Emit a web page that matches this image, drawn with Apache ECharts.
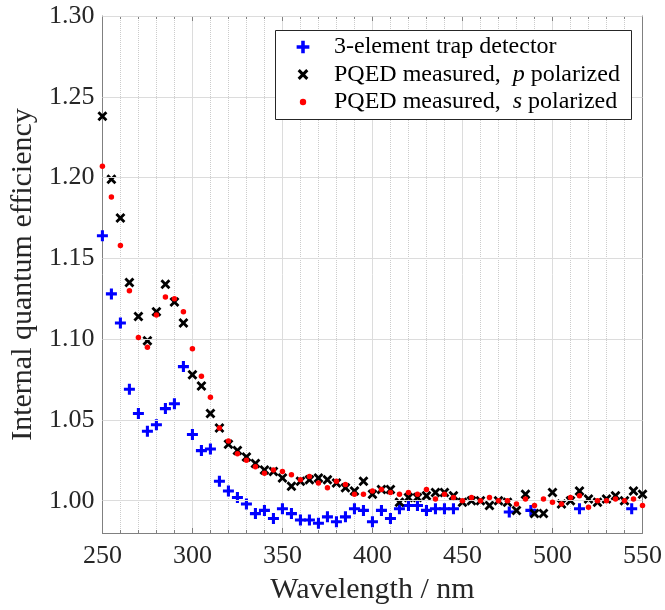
<!DOCTYPE html>
<html>
<head>
<meta charset="UTF-8">
<title>Internal quantum efficiency</title>
<script src="https://cdn.jsdelivr.net/npm/echarts@6/dist/echarts.min.js"></script>
<style>
    html, body { margin: 0; padding: 0; background: #fff; }
    #main { width: 665px; height: 610px; }
</style>
</head>
<body>
<div id="main"></div>
<script>
// wavelengths of the PQED measurements (nm)
var pqedWl = [250,255,260,265,270,275,280,285,290,295,300,305,310,315,320,325,330,335,340,345,
              350,355,360,365,370,375,380,385,390,395,400,405,410,415,420,425,430,435,440,445,
              450,455,460,465,470,475,480,485,490,495,500,505,510,515,520,525,530,535,540,545,550];

// PQED measured, p polarized
var pPol = [1.238,1.199,1.175,1.135,1.114,1.099,1.117,1.134,1.123,1.110,1.078,1.071,1.054,1.045,1.035,1.031,1.027,1.023,1.019,1.018,
            1.014,1.009,1.012,1.013,1.014,1.013,1.011,1.008,1.006,1.012,1.004,1.007,1.007,0.999,1.002,1.002,1.003,1.005,1.005,1.003,
            0.999,1.000,1.000,0.997,1.000,0.999,0.994,1.004,0.992,0.992,1.005,0.998,1.000,1.006,1.001,0.999,1.001,1.003,1.000,1.006,1.004];

// PQED measured, s polarized
var sPol = [1.207,1.188,1.158,1.130,1.101,1.095,1.115,1.126,1.125,1.117,1.094,1.077,1.064,1.045,1.037,1.029,1.025,1.021,1.017,1.019,
            1.018,1.016,1.013,1.015,1.011,1.008,1.012,1.010,1.004,1.004,1.006,1.007,1.005,1.004,1.005,1.004,1.007,1.001,1.004,1.002,
            1.000,1.002,1.000,1.002,1.000,1.000,0.998,1.001,0.997,1.001,0.999,0.998,1.002,1.003,0.996,1.000,1.000,1.001,1.000,1.001,0.997];

// 3-element trap detector
var trapWl = [250,255,260,265,270,275,280,285,290,295,300,305,310,315,320,325,330,335,340,345,
              350,355,360,365,370,375,380,385,390,395,400,405,410,415,420,425,430,435,440,445,
              476,488,515,544];
var trapVal = [1.164,1.128,1.110,1.069,1.054,1.043,1.047,1.057,1.060,1.083,1.041,1.031,1.032,1.012,1.006,1.002,0.998,0.992,0.994,0.989,
               0.995,0.992,0.988,0.988,0.986,0.990,0.987,0.990,0.995,0.994,0.987,0.994,0.989,0.995,0.997,0.997,0.994,0.995,0.995,0.995,
               0.993,0.994,0.995,0.995];

var xTicks = [250,300,350,400,450,500,550];
var yTicks = [1.00,1.05,1.10,1.15,1.20,1.25,1.30];

var names = ['3-element trap detector', 'PQED measured, p polarized', 'PQED measured, s polarized'];

function pairs(xs, ys) {
    var out = [];
    for (var i = 0; i < xs.length; i++) out.push([xs[i], ys[i]]);
    return out;
}

var FONT = '"Liberation Serif", "Times New Roman", serif';
var AXIS_GRAY = '#808080';
var TEXT = '#262626';

var plusPath = 'path://M3.6,0h2.8v10h-2.8zM0,3.6h10v2.8h-10z';
var crossPath = 'path://M0,2L2,0L5,3L8,0L10,2L7,5L10,8L8,10L5,7L2,10L0,8L3,5z';
// legend icons padded with move-to points so they keep their relative sizes
var plusIcon = 'path://M-0.5,-0.5M10.5,10.5M3.6,0h2.8v10h-2.8zM0,3.6h10v2.8h-10z';
var crossIcon = 'path://M-1.5,-1.5M11.5,11.5M0,2L2,0L5,3L8,0L10,2L7,5L10,8L8,10L5,7L2,10L0,8L3,5z';
var dotIcon = 'path://M-0.5,-0.5M10.5,10.5M5,2.5A2.5,2.5,0,1,0,5,7.5A2.5,2.5,0,1,0,5,2.5z';

var myChart = echarts.init(document.getElementById('main'), null, {renderer: 'canvas'});

var option = {
    backgroundColor: '#fff',
    animation: false,
    textStyle: {fontFamily: FONT},
    grid: {left: 97, right: 21, top: 16, bottom: 77},
    graphic: [{
        type: 'rect',
        z: 50,
        shape: {x: 275.5, y: 30.5, width: 356, height: 89},
        style: {fill: '#fff', stroke: '#262626', lineWidth: 1}
    }],
    legend: {
        z: 60,
        orient: 'vertical',
        left: 296,
        top: 35,
        padding: 0,
        itemWidth: 14,
        itemHeight: 14,
        itemGap: 3.5,
        data: [
            {name: names[0], icon: plusIcon},
            {name: names[1], icon: crossIcon},
            {name: names[2], icon: dotIcon}
        ],
        formatter: function (name) {
            if (name === names[1]) return '{n|PQED measured,  }{i|p}{n| polarized}';
            if (name === names[2]) return '{n|PQED measured,  }{i|s}{n| polarized}';
            return '{n|' + name + '}';
        },
        textStyle: {
            padding: [0, 0, 0, 19],
            rich: {
                n: {fontFamily: FONT, fontSize: 24, color: '#000', lineHeight: 24},
                i: {fontFamily: FONT, fontSize: 24, color: '#000', fontStyle: 'italic', lineHeight: 24}
            }
        }
    },
    xAxis: [{
        type: 'value',
        min: 250, max: 550, interval: 50,
        name: 'Wavelength / nm',
        nameLocation: 'middle',
        nameGap: 42,
        nameTextStyle: {fontFamily: FONT, fontSize: 30, color: TEXT},
        axisLine: {lineStyle: {color: AXIS_GRAY, width: 1}},
        axisTick: {inside: true, length: 5, lineStyle: {color: AXIS_GRAY}},
        minorTick: {show: true, splitNumber: 5, length: 3, lineStyle: {color: AXIS_GRAY}},
        axisLabel: {fontFamily: FONT, fontSize: 26, color: TEXT, margin: 10},
        splitLine: {show: true, lineStyle: {color: '#dcdcdc', width: 1}},
        minorSplitLine: {show: true, lineStyle: {color: '#cccccc', width: 1, type: 'dotted'}}
    }, {
        type: 'value',
        position: 'top',
        min: 250, max: 550, interval: 50,
        axisLine: {show: true, lineStyle: {color: AXIS_GRAY, width: 1}},
        axisTick: {show: true, inside: true, length: 5, lineStyle: {color: AXIS_GRAY}},
        minorTick: {show: true, splitNumber: 5, length: 3, lineStyle: {color: AXIS_GRAY}},
        axisLabel: {show: false},
        splitLine: {show: false}
    }],
    yAxis: [{
        type: 'value',
        min: 0.98, max: 1.30, interval: 0.01,
        name: 'Internal quantum efficiency',
        nameLocation: 'middle',
        nameGap: 55,
        nameTextStyle: {fontFamily: FONT, fontSize: 30, color: TEXT},
        axisLine: {show: true, lineStyle: {color: AXIS_GRAY, width: 1}},
        axisTick: {show: true, inside: true, length: 5, customValues: yTicks, lineStyle: {color: AXIS_GRAY}},
        axisLabel: {
            fontFamily: FONT, fontSize: 26, color: TEXT, margin: 8,
            customValues: yTicks,
            formatter: function (v) { return v.toFixed(2); }
        },
        splitLine: {show: true, lineStyle: {color: '#cccccc', width: 1, type: 'dotted'}}
    }, {
        type: 'value',
        position: 'right',
        min: 0.98, max: 1.30, interval: 0.01,
        axisLine: {show: true, lineStyle: {color: AXIS_GRAY, width: 1}},
        axisTick: {show: true, inside: true, length: 5, customValues: yTicks, lineStyle: {color: AXIS_GRAY}},
        axisLabel: {show: false},
        splitLine: {show: false}
    }],
    series: [{
        // major horizontal grid lines
        type: 'scatter',
        name: 'grid',
        data: [],
        z: 1,
        silent: true,
        markLine: {
            silent: true,
            symbol: 'none',
            label: {show: false},
            lineStyle: {color: '#dcdcdc', type: 'solid', width: 1},
            data: yTicks.map(function (v) { return {yAxis: v}; })
        }
    }, {
        name: names[0],
        type: 'scatter',
        z: 3,
        data: pairs(trapWl, trapVal),
        symbol: plusPath,
        symbolSize: 11,
        itemStyle: {color: '#0000ff', opacity: 1}
    }, {
        name: names[1],
        type: 'scatter',
        z: 4,
        data: pairs(pqedWl, pPol),
        symbol: crossPath,
        symbolSize: 10,
        itemStyle: {color: '#000000', opacity: 1}
    }, {
        name: names[2],
        type: 'scatter',
        z: 5,
        data: pairs(pqedWl, sPol),
        symbol: 'circle',
        symbolSize: 5.5,
        itemStyle: {color: '#ff0000', opacity: 1}
    }]
};

myChart.setOption(option);
</script>
</body>
</html>
